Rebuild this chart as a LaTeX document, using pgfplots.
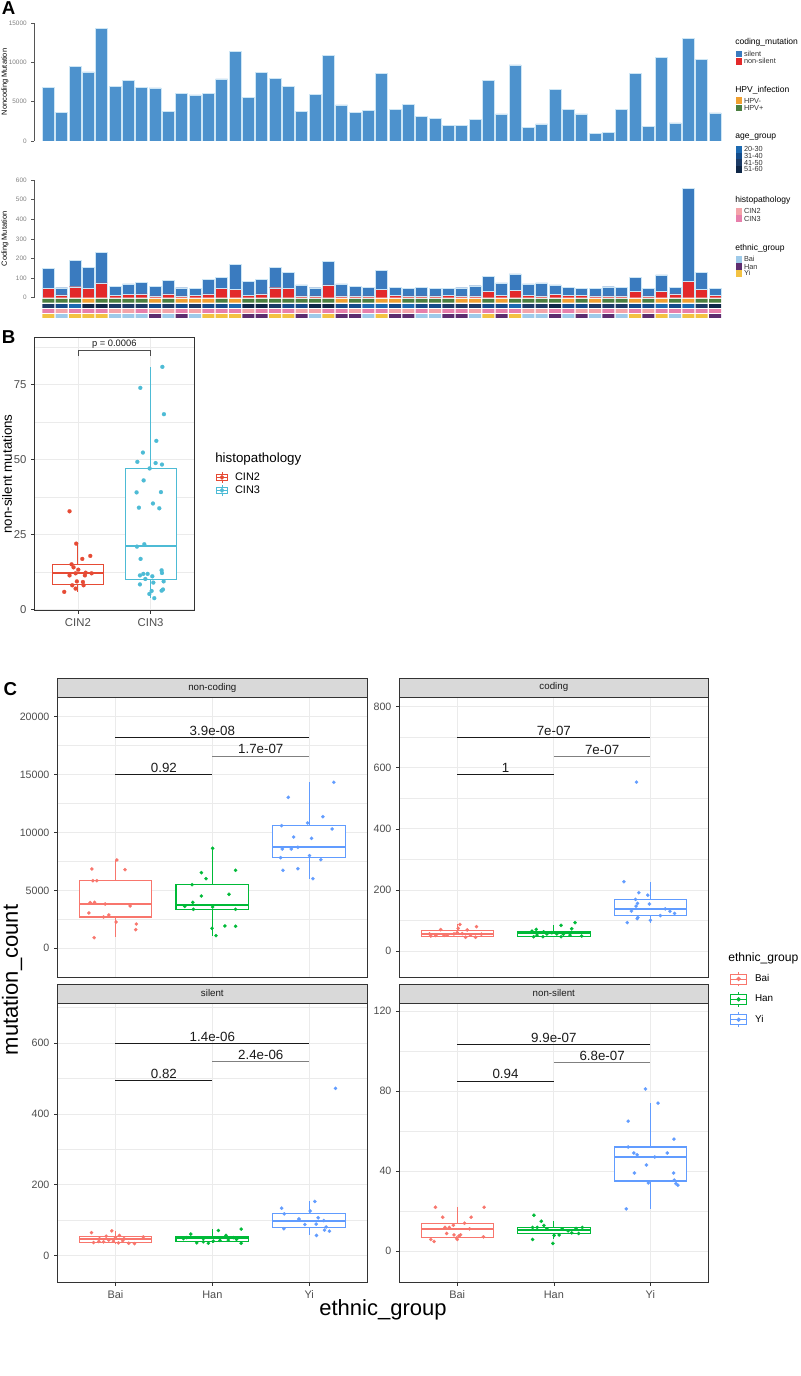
\documentclass[border=0pt]{standalone}
\usepackage{fontspec}
\setmainfont{Liberation Sans}
\usepackage{pgfplots}
\usepackage{pgfplotstable}
\pgfplotsset{compat=1.18}
\usepgfplotslibrary{statistics}

\definecolor{gGrid}{HTML}{EBEBEB}
\definecolor{gStrip}{HTML}{D9D9D9}
\definecolor{gDark}{HTML}{333333}
\definecolor{gText}{HTML}{4D4D4D}
\definecolor{gTitle}{HTML}{1A1A1A}
\definecolor{gAx}{HTML}{555555}
\definecolor{silentA}{HTML}{4D92CD}
\definecolor{silentB}{HTML}{3A7BBF}
\definecolor{nonsil}{HTML}{E3292A}
\definecolor{barline}{HTML}{CDE6F5}
\definecolor{hpvneg}{HTML}{F0A030}
\definecolor{hpvpos}{HTML}{4B7F40}
\definecolor{ageA}{HTML}{1D6AB1}
\definecolor{ageB}{HTML}{154C8A}
\definecolor{ageC}{HTML}{1C3B66}
\definecolor{ageD}{HTML}{0F2747}
\definecolor{cinTwo}{HTML}{F4A4A9}
\definecolor{cinThree}{HTML}{E77FAB}
\definecolor{ethBai}{HTML}{9ECAE9}
\definecolor{ethHan}{HTML}{5E2D6F}
\definecolor{ethYi}{HTML}{F3C242}
\definecolor{cBai}{HTML}{F8766D}
\definecolor{cHan}{HTML}{00BA38}
\definecolor{cYi}{HTML}{619CFF}
\definecolor{npgred}{HTML}{E64B35}
\definecolor{npgblue}{HTML}{4DBBD5}

\pgfplotstableread{
k nc ns sil
1 6780 49 99
2 3640 14 37
3 9530 56 136
4 8770 48 105
5 14360 75 155
6 6900 12 46
7 7670 17 53
8 6820 20 58
9 6740 10 48
10 3810 20 68
11 6060 10 41
12 5850 12 36
13 6020 19 75
14 7880 48 57
15 11400 42 128
16 5550 12 73
17 8690 19 76
18 8000 51 105
19 6950 48 81
20 3810 10 55
21 5890 9 42
22 10850 65 120
23 4580 10 60
24 3640 9 49
25 3900 9 45
26 8640 41 98
27 3980 12 42
28 4700 9 39
29 3090 9 44
30 2920 9 37
31 1950 12 37
32 1950 9 42
33 2750 10 51
34 7750 32 78
35 3430 12 63
36 9660 36 86
37 1690 12 58
38 2160 10 65
39 6570 17 49
40 4030 12 41
41 3430 12 37
42 970 9 37
43 1140 10 46
44 3980 9 45
45 8640 34 68
46 1820 9 40
47 10640 32 84
48 2290 19 34
49 13050 82 474
50 10340 41 90
51 3560 12 37
}\dataA

\tikzset{plab/.style={anchor=south, inner sep=1.2pt, font=\fontsize{10}{11}\selectfont, text=gTitle}}

\pgfplotsset{
  trackax/.style={scale only axis, anchor=south west, width=516.75pt, height=2.8pt,
    xmin=-0.075, xmax=51.6, ymin=0, ymax=1, hide axis},
  cell/.style={ybar, bar width=0.9, bar shift=0pt, draw=none, fill=#1},
  aax/.style={scale only axis, anchor=south west, width=516.75pt,
    xmin=-0.075, xmax=51.6, axis x line=none, axis y line*=left,
    y axis line style={gAx, line width=0.7pt}, ytick style={gAx, line width=0.5pt},
    tick align=outside, major tick length=2pt,
    yticklabel style={font=\fontsize{4.8}{5}\selectfont, text=gray},
    ylabel style={font=\fontsize{5.6}{6}\selectfont, at={(axis description cs:-0.042,0.5)}, anchor=center},
    /pgf/number format/assume math mode=true, /pgf/number format/1000 sep={}, scaled y ticks=false},
  ggbase/.style={scale only axis, anchor=south west,
    axis line style={gDark, line width=0.5pt},
    grid style={gGrid, line width=0.6pt},
    minor grid style={gGrid, line width=0.3pt},
    xmajorgrids, ymajorgrids, yminorgrids,
    tick align=outside, xtick pos=left, ytick pos=left,
    major tick length=2.4pt, minor tick length=0pt,
    tick style={gDark, line width=0.5pt},
    /pgf/number format/assume math mode=true,
    /pgf/number format/1000 sep={}, scaled ticks=false,
    boxplot/draw direction=y,
    boxplot/every median/.style={line width=1.5pt},
    every axis plot/.append style={line width=0.8pt}},
  cfacet/.style={ggbase, width=#1, height=210pt,
    xmin=0.4, xmax=3.6, xtick={1,2,3},
    yticklabel style={font=\fontsize{8}{9}\selectfont, text=gText},
    xticklabel style={font=\fontsize{8.2}{9}\selectfont, text=gText},
    every axis title/.style={at={(0.5,1)}, anchor=south, fill=gStrip, draw=gDark,
      line width=0.5pt, minimum width=#1, minimum height=14.25pt, inner sep=0pt,
      font=\fontsize{7.3}{8}\selectfont, text=gTitle}},
  pts/.style={only marks, mark=*, color=#1, mark size=1.3pt, mark options={fill=#1, draw=#1, line width=0.1pt}, forget plot},
  brk/.style={gTitle, line width=0.6pt, forget plot},
}

\newcommand{\akey}[3]{\fill[#1] (551.8pt,{#2-2.45pt}) rectangle ++(4.9pt,4.9pt);
  \node[anchor=west,inner sep=0pt,font=\fontsize{5.5}{6}\selectfont,text=gDark] at (557.8pt,#2) {#3};}
\newcommand{\atitle}[2]{\node[anchor=west,inner sep=0pt,font=\fontsize{6.4}{7}\selectfont] at (551.25pt,#1) {#2};}

\begin{document}
\begin{tikzpicture}
\useasboundingbox (0,0) rectangle (600pt,1032pt);

% ---------------- Panel A ----------------
\node[anchor=north west, inner sep=0pt, font=\fontsize{14}{15}\selectfont\bfseries] at (1.3pt,1031pt) {A};

\begin{axis}[aax, at={(25.5pt,926.25pt)}, height=88.5pt, ymin=0, ymax=15000,
  ytick={0,5000,10000,15000}, ylabel={Noncoding Mutation}]
\addplot[ybar, bar width=0.9, bar shift=0pt, fill=silentA, draw=barline, line width=0.3pt] table[x=k,y=nc]{\dataA};
\end{axis}

\begin{axis}[aax, at={(25.5pt,808.7pt)}, height=88.3pt, ymin=0, ymax=600,
  ytick={0,100,200,300,400,500,600}, ylabel={Coding Mutation}, ybar stacked, bar width=0.9]
\addplot[fill=nonsil, draw=barline, line width=0.3pt] table[x=k,y=ns]{\dataA};
\addplot[fill=silentB, draw=barline, line width=0.3pt] table[x=k,y=sil]{\dataA};
\end{axis}

% HPV track
\begin{axis}[trackax, at={(25.5pt,805pt)}]
\addplot[cell=hpvneg] coordinates {(4,1)(9,1)(11,1)(12,1)(13,1)(15,1)(23,1)(26,1)(27,1)(32,1)(33,1)(35,1)(40,1)(42,1)(45,1)(47,1)(49,1)};
\addplot[cell=hpvpos] coordinates {(1,1)(2,1)(3,1)(5,1)(6,1)(7,1)(8,1)(10,1)(14,1)(16,1)(17,1)(18,1)(19,1)(20,1)(21,1)(22,1)(24,1)(25,1)(28,1)(29,1)(30,1)(31,1)(34,1)(36,1)(37,1)(38,1)(39,1)(41,1)(43,1)(44,1)(46,1)(48,1)(50,1)(51,1)};
\end{axis}
% age track
\begin{axis}[trackax, at={(25.5pt,801.1pt)}]
\addplot[cell=ageA] coordinates {(3,1)(15,1)(25,1)(26,1)(28,1)(36,1)(47,1)(49,1)};
\addplot[cell=ageB] coordinates {(2,1)(9,1)(11,1)(13,1)(14,1)(19,1)(20,1)(23,1)(24,1)(27,1)(29,1)(30,1)(34,1)(35,1)(40,1)(41,1)(45,1)(46,1)(48,1)};
\addplot[cell=ageC] coordinates {(1,1)(6,1)(7,1)(8,1)(10,1)(12,1)(18,1)(31,1)(32,1)(33,1)(37,1)(38,1)(42,1)(43,1)(44,1)(50,1)};
\addplot[cell=ageD] coordinates {(4,1)(5,1)(16,1)(17,1)(21,1)(22,1)(39,1)(51,1)};
\end{axis}
% histopathology track
\begin{axis}[trackax, at={(25.5pt,797.25pt)}]
\addplot[cell=cinTwo] coordinates {(2,1)(6,1)(7,1)(9,1)(10,1)(12,1)(16,1)(20,1)(21,1)(24,1)(27,1)(28,1)(30,1)(33,1)(37,1)(38,1)(41,1)(42,1)(44,1)(46,1)};
\addplot[cell=cinThree] coordinates {(1,1)(3,1)(4,1)(5,1)(8,1)(11,1)(13,1)(14,1)(15,1)(17,1)(18,1)(19,1)(22,1)(23,1)(25,1)(26,1)(29,1)(31,1)(32,1)(34,1)(35,1)(36,1)(39,1)(40,1)(43,1)(45,1)(47,1)(48,1)(49,1)(50,1)(51,1)};
\end{axis}
% ethnic track
\begin{axis}[trackax, at={(25.5pt,793.5pt)}]
\addplot[cell=ethBai] coordinates {(2,1)(6,1)(7,1)(8,1)(10,1)(12,1)(21,1)(25,1)(29,1)(30,1)(33,1)(37,1)(38,1)(40,1)(42,1)(44,1)(48,1)};
\addplot[cell=ethHan] coordinates {(9,1)(11,1)(16,1)(17,1)(20,1)(23,1)(24,1)(27,1)(28,1)(31,1)(32,1)(35,1)(39,1)(41,1)(43,1)(46,1)(51,1)};
\addplot[cell=ethYi] coordinates {(1,1)(3,1)(4,1)(5,1)(13,1)(14,1)(15,1)(18,1)(19,1)(22,1)(26,1)(34,1)(36,1)(45,1)(47,1)(49,1)(50,1)};
\end{axis}

% legend A
\atitle{1000pt}{coding\_mutation}
\akey{silentB}{991.5pt}{silent}
\akey{nonsil}{986pt}{non-silent}
\atitle{964.5pt}{HPV\_infection}
\akey{hpvneg}{956.5pt}{HPV-}
\akey{hpvpos}{951pt}{HPV+}
\atitle{929pt}{age\_group}
\akey{ageA}{920pt}{20-30}
\akey{ageB}{915pt}{31-40}
\akey{ageC}{910pt}{41-50}
\akey{ageD}{905pt}{51-60}
\atitle{882pt}{histopathology}
\akey{cinTwo}{873.5pt}{CIN2}
\akey{cinThree}{868pt}{CIN3}
\atitle{845.8pt}{ethnic\_group}
\akey{ethBai}{837.5pt}{Bai}
\akey{ethHan}{832pt}{Han}
\akey{ethYi}{827pt}{Yi}

% ---------------- Panel B ----------------
\node[anchor=north west, inner sep=0pt, font=\fontsize{14}{15}\selectfont\bfseries] at (1.3pt,784.5pt) {B};

\begin{axis}[ggbase, at={(25.7pt,574pt)}, width=120pt, height=205pt,
  xmin=0.4, xmax=2.6, ymin=-0.47, ymax=90.76,
  xtick={1,2}, xticklabels={CIN2,CIN3},
  ytick={0,25,50,75}, minor ytick={12.5,37.5,62.5,87.5},
  yticklabel style={font=\fontsize{8.5}{9}\selectfont, text=gText},
  xticklabel style={font=\fontsize{8.5}{9}\selectfont, text=gText},
  ylabel={non-silent mutations},
  ylabel style={font=\fontsize{10}{11}\selectfont, at={(axis description cs:-0.17,0.5)}, anchor=center},
  clip=false,
  legend style={at={(axis description cs:1.136,0.464)}, anchor=west, draw=none, fill=none,
    inner sep=0pt, row sep=0.7pt, font=\fontsize{8.2}{9}\selectfont,
    nodes={inner sep=0pt}, /tikz/every odd column/.append style={column sep=5.5pt}},
  legend cell align=left]
\addlegendimage{legend image code/.code={
  \draw[npgred, line width=0.6pt, fill=white] (0pt,-2.5pt) rectangle (8pt,2.5pt);
  \draw[npgred, line width=0.6pt] (4pt,-4.25pt)--(4pt,-2.5pt) (4pt,2.5pt)--(4pt,4.25pt) (0pt,0pt)--(8pt,0pt);
  \fill[npgred] (4pt,0pt) circle (1.3pt);}}
\addlegendentry{CIN2}
\addlegendimage{legend image code/.code={
  \draw[npgblue, line width=0.6pt, fill=white] (0pt,-2.5pt) rectangle (8pt,2.5pt);
  \draw[npgblue, line width=0.6pt] (4pt,-4.25pt)--(4pt,-2.5pt) (4pt,2.5pt)--(4pt,4.25pt) (0pt,0pt)--(8pt,0pt);
  \fill[npgblue] (4pt,0pt) circle (1.3pt);}}
\addlegendentry{CIN3}
\addplot[boxplot prepared={lower whisker=5.8, lower quartile=8.3, median=12.0, upper quartile=14.8, upper whisker=21.9, draw position=1, box extend=0.7, whisker extend=0}, draw=npgred, fill=white, forget plot] coordinates {};
\addplot[boxplot prepared={lower whisker=3.7, lower quartile=10.0, median=21.1, upper quartile=47.0, upper whisker=80.9, draw position=2, box extend=0.7, whisker extend=0}, draw=npgblue, fill=white, forget plot] coordinates {};
\addplot[pts=npgred, mark size=1.5pt] coordinates {(0.885,32.7)(0.977,21.9)(1.170,17.8)(1.060,16.8)(0.913,15.0)(0.940,14.0)(1.005,13.2)(0.885,11.3)(0.968,12.0)(1.106,12.2)(1.188,12.0)(1.096,11.3)(0.986,9.3)(1.069,9.1)(0.922,8.0)(1.078,8.0)(0.968,6.9)(0.812,5.8)};
\addplot[pts=npgblue, mark size=1.5pt] coordinates {(2.161,80.9)(1.858,73.9)(2.183,65.1)(2.078,56.2)(1.894,52.3)(1.817,49.2)(2.069,48.8)(2.156,48.3)(1.986,47.0)(1.904,43.0)(1.807,39.0)(2.142,39.1)(2.032,35.3)(1.839,33.9)(2.119,33.7)(1.812,20.9)(1.913,21.7)(1.862,16.8)(2.151,13.0)(2.156,12.1)(1.853,11.3)(1.899,11.8)(1.959,11.8)(2.023,11.0)(1.927,10.1)(2.179,9.3)(2.037,8.9)(1.853,8.3)(2.014,6.1)(1.982,5.1)(2.170,6.6)(2.151,6.2)(2.050,3.7)};
\addplot[gText, line width=0.5pt, forget plot] coordinates {(1,84.5)(1,86.5)(2,86.5)(2,84.5)};
\node[anchor=south, inner sep=1pt, font=\fontsize{7}{8}\selectfont, text=gTitle] at (axis cs:1.5,86.5) {p = 0.0006};
\end{axis}
\node[anchor=west, inner sep=0pt, font=\fontsize{10}{11}\selectfont] at (161.25pt,687.75pt) {histopathology};

% ---------------- Panel C ----------------
\node[anchor=north west, inner sep=0pt, font=\fontsize{14}{15}\selectfont\bfseries] at (2.5pt,520.7pt) {C};

% non-coding
\begin{axis}[cfacet=232.5pt, at={(43pt,299pt)}, ymin=-2504, ymax=21670,
  ytick={0,5000,10000,15000,20000}, minor ytick={2500,7500,12500,17500},
  xticklabels={}, xtick style={draw=none}, title={non-coding}]
\addplot[boxplot prepared={lower whisker=950, lower quartile=2705, median=3800, upper quartile=5871, upper whisker=7627, draw position=1, box extend=0.75, whisker extend=0}, draw=cBai, fill=white] coordinates {};
\addplot[boxplot prepared={lower whisker=1094, lower quartile=3338, median=3770, upper quartile=5497, upper whisker=8634, draw position=2, box extend=0.75, whisker extend=0}, draw=cHan, fill=white] coordinates {};
\addplot[boxplot prepared={lower whisker=6015, lower quartile=7828, median=8720, upper quartile=10591, upper whisker=14333, draw position=3, box extend=0.75, whisker extend=0}, draw=cYi, fill=white] coordinates {};
\addplot[pts=cBai] coordinates {(0.756,6850)(0.767,5842)(0.808,5842)(1.099,6792)(1.014,7627)(0.739,3943)(0.784,3971)(0.894,3828)(1.151,3655)(0.726,3051)(0.877,2705)(0.931,2878)(1.007,2274)(1.216,2101)(1.209,1612)(0.780,921)};
\addplot[pts=cHan] coordinates {(2.003,8634)(1.887,6533)(1.935,6015)(2.240,6734)(1.791,5497)(1.887,4519)(2.172,4662)(1.798,3971)(1.715,3626)(1.804,3367)(2.003,3569)(2.240,3367)(1.997,1727)(2.130,1928)(2.240,1900)(2.038,1094)};
\addplot[pts=cYi] coordinates {(3.254,14333)(2.784,13037)(3.141,11368)(2.715,10591)(2.983,10821)(3.237,10303)(2.839,9612)(3.024,9497)(2.722,8576)(2.815,8576)(2.883,8720)(3.003,8001)(2.705,7828)(3.120,7656)(2.729,6734)(2.883,6879)(3.038,6015)};
\addplot[brk] coordinates {(1,18218)(3,18218)};
\addplot[brk, gray] coordinates {(2,16606)(3,16606)};
\addplot[brk] coordinates {(1,14994)(2,14994)};
\node[plab] at (axis cs:2,18218) {3.9e-08};
\node[plab] at (axis cs:2.5,16606) {1.7e-07};
\node[plab] at (axis cs:1.5,14994) {0.92};
\end{axis}

% coding
\begin{axis}[cfacet=231.75pt, at={(299.5pt,299pt)}, ymin=-86.1, ymax=830.7,
  ytick={0,200,400,600,800}, minor ytick={100,300,500,700},
  xticklabels={}, xtick style={draw=none}, title={coding},
  legend style={at={(axis description cs:1.07,-0.0786)}, anchor=west, draw=none, fill=none,
    inner sep=0pt, row sep=3.7pt, font=\fontsize{7.4}{8}\selectfont,
    nodes={inner sep=0pt}, /tikz/every odd column/.append style={column sep=6pt}},
  legend cell align=left]
\addlegendimage{legend image code/.code={
  \draw[cBai, line width=0.6pt, fill=white] (0pt,-3.75pt) rectangle (12pt,3.75pt);
  \draw[cBai, line width=0.6pt] (6pt,-5.5pt)--(6pt,-3.75pt) (6pt,3.75pt)--(6pt,5.5pt) (0pt,0pt)--(12pt,0pt);
  \fill[cBai] (6pt,0pt) circle (1.2pt);}}
\addlegendentry{Bai}
\addlegendimage{legend image code/.code={
  \draw[cHan, line width=0.6pt, fill=white] (0pt,-3.75pt) rectangle (12pt,3.75pt);
  \draw[cHan, line width=0.6pt] (6pt,-5.5pt)--(6pt,-3.75pt) (6pt,3.75pt)--(6pt,5.5pt) (0pt,0pt)--(12pt,0pt);
  \fill[cHan] (6pt,0pt) circle (1.2pt);}}
\addlegendentry{Han}
\addlegendimage{legend image code/.code={
  \draw[cYi, line width=0.6pt, fill=white] (0pt,-3.75pt) rectangle (12pt,3.75pt);
  \draw[cYi, line width=0.6pt] (6pt,-5.5pt)--(6pt,-3.75pt) (6pt,3.75pt)--(6pt,5.5pt) (0pt,0pt)--(12pt,0pt);
  \fill[cYi] (6pt,0pt) circle (1.2pt);}}
\addlegendentry{Yi}
\addplot[boxplot prepared={lower whisker=45, lower quartile=49, median=57, upper quartile=68, upper whisker=87, draw position=1, box extend=0.75, whisker extend=0}, draw=cBai, fill=white, forget plot] coordinates {};
\addplot[boxplot prepared={lower whisker=45, lower quartile=49, median=58, upper quartile=65, upper whisker=84, draw position=2, box extend=0.75, whisker extend=0}, draw=cHan, fill=white, forget plot] coordinates {};
\addplot[boxplot prepared={lower whisker=93, lower quartile=117, median=136, upper quartile=169, upper whisker=226, draw position=3, box extend=0.75, whisker extend=0}, draw=cYi, fill=white, forget plot] coordinates {};
\addplot[pts=cBai] coordinates {(1.027,87)(0.828,70)(1.199,80)(1.103,69)(0.712,56)(0.897,52)(1.000,60)(1.086,45)(1.189,45)(1.250,55)(1.010,74)(1.051,57)(0.777,51)(1.137,52)(0.966,56)(0.863,51)(0.726,49)};
\addplot[pts=cHan] coordinates {(2.220,93)(2.075,84)(2.185,73)(1.774,65)(1.818,71)(1.894,63)(1.825,52)(1.791,47)(1.887,47)(1.979,60)(2.031,56)(2.075,47)(2.288,49)(2.168,52)(1.928,56)(2.099,55)};
\addplot[pts=cYi] coordinates {(2.856,553)(2.726,227)(2.880,191)(2.973,183)(2.846,169)(2.866,156)(2.852,147)(2.990,154)(2.804,131)(3.154,138)(3.202,130)(3.250,123)(3.103,116)(2.870,110)(2.863,106)(3.000,101)(2.760,93)};
\addplot[brk] coordinates {(1,700)(3,700)};
\addplot[brk, gray] coordinates {(2,638)(3,638)};
\addplot[brk] coordinates {(1,577)(2,577)};
\node[plab] at (axis cs:2,700) {7e-07};
\node[plab] at (axis cs:2.5,638) {7e-07};
\node[plab] at (axis cs:1.5,577) {1};
\end{axis}

% silent
\begin{axis}[cfacet=232.5pt, at={(43pt,70pt)}, height=209.5pt, ymin=-76.2, ymax=712,
  ytick={0,200,400,600}, minor ytick={100,300,500,700},
  xticklabels={Bai,Han,Yi}, title={silent}]
\addplot[boxplot prepared={lower whisker=34, lower quartile=37, median=46, upper quartile=54, upper whisker=70, draw position=1, box extend=0.75, whisker extend=0}, draw=cBai, fill=white] coordinates {};
\addplot[boxplot prepared={lower whisker=35, lower quartile=41, median=49, upper quartile=55, upper whisker=74, draw position=2, box extend=0.75, whisker extend=0}, draw=cHan, fill=white] coordinates {};
\addplot[boxplot prepared={lower whisker=57, lower quartile=80, median=98, upper quartile=118, upper whisker=153, draw position=3, box extend=0.75, whisker extend=0}, draw=cYi, fill=white] coordinates {};
\addplot[pts=cBai] coordinates {(0.753,65)(0.962,70)(0.904,55)(1.041,57)(0.835,48)(1.000,50)(1.288,53)(0.774,37)(1.031,36)(1.137,35)(1.196,34)(0.931,44)(1.075,42)(0.877,39)(0.979,41)(0.828,40)(1.089,48)};
\addplot[pts=cHan] coordinates {(1.777,61)(2.062,71)(2.298,75)(2.141,57)(1.907,48)(1.839,36)(1.959,35)(2.298,35)(2.079,43)(2.216,51)(2.010,41)(2.165,44)(1.907,39)(1.736,51)(1.702,48)(2.250,46)};
\addplot[pts=cYi] coordinates {(3.271,472)(3.058,153)(2.715,134)(3.010,126)(2.743,118)(2.894,104)(3.093,107)(3.151,99)(2.955,88)(3.072,89)(3.175,81)(3.158,72)(3.209,69)(2.739,76)(3.075,57)(2.894,101)};
\addplot[brk] coordinates {(1,600)(3,600)};
\addplot[brk, gray] coordinates {(2,547)(3,547)};
\addplot[brk] coordinates {(1,495)(2,495)};
\node[plab] at (axis cs:2,600) {1.4e-06};
\node[plab] at (axis cs:2.5,547) {2.4e-06};
\node[plab] at (axis cs:1.5,495) {0.82};
\end{axis}

% non-silent
\begin{axis}[cfacet=231.75pt, at={(299.5pt,70pt)}, height=209.5pt, ymin=-15.8, ymax=123.8,
  ytick={0,40,80,120}, minor ytick={20,60,100},
  xticklabels={Bai,Han,Yi}, title={non-silent}]
\addplot[boxplot prepared={lower whisker=4.8, lower quartile=6.8, median=11.1, upper quartile=13.8, upper whisker=21.9, draw position=1, box extend=0.75, whisker extend=0}, draw=cBai, fill=white] coordinates {};
\addplot[boxplot prepared={lower whisker=5.8, lower quartile=8.8, median=10.5, upper quartile=11.8, upper whisker=14.9, draw position=2, box extend=0.75, whisker extend=0}, draw=cHan, fill=white] coordinates {};
\addplot[boxplot prepared={lower whisker=21.1, lower quartile=35.0, median=46.8, upper quartile=52.0, upper whisker=73.9, draw position=3, box extend=0.75, whisker extend=0}, draw=cYi, fill=white] coordinates {};
\addplot[pts=cBai] coordinates {(0.774,21.9)(1.278,21.9)(0.849,16.9)(1.144,16.9)(1.075,13.9)(0.959,12.9)(0.873,11.8)(0.918,11.8)(1.127,11.1)(0.890,8.8)(0.966,8.1)(1.034,8.1)(1.017,7.5)(0.993,6.5)(1.271,7.1)(0.726,5.8)(0.760,4.8)(1.000,5.8)};
\addplot[pts=cHan] coordinates {(1.794,17.9)(1.870,14.9)(1.897,12.8)(1.780,11.8)(1.828,11.8)(2.295,11.8)(2.086,11.1)(2.148,10.1)(2.230,11.3)(2.257,8.8)(2.003,7.8)(2.055,8.0)(1.780,5.8)(1.990,3.8)(1.928,11.1)(2.185,9.1)};
\addplot[pts=cYi] coordinates {(2.949,81.0)(3.079,73.9)(2.770,64.9)(3.244,55.9)(2.770,52.0)(2.828,49.0)(2.863,48.1)(3.175,49.0)(3.045,47.0)(2.959,43.0)(2.835,39.0)(3.240,39.0)(2.979,34.0)(3.247,35.4)(3.264,33.7)(3.285,32.9)(2.750,21.1)};
\addplot[brk] coordinates {(1,103.4)(3,103.4)};
\addplot[brk, gray] coordinates {(2,94.1)(3,94.1)};
\addplot[brk] coordinates {(1,85.0)(2,85.0)};
\node[plab] at (axis cs:2,103.4) {9.9e-07};
\node[plab] at (axis cs:2.5,94.1) {6.8e-07};
\node[plab] at (axis cs:1.5,85.0) {0.94};
\end{axis}

\node[rotate=90, anchor=north, inner sep=0pt, font=\fontsize{16.5}{18}\selectfont] at (1.3pt,297pt) {mutation\_count};
\node[inner sep=0pt, font=\fontsize{16.5}{18}\selectfont] at (287.25pt,49.5pt) {ethnic\_group};
\node[anchor=west, inner sep=0pt, font=\fontsize{9.1}{10}\selectfont] at (546pt,313.5pt) {ethnic\_group};
\end{tikzpicture}
\end{document}
